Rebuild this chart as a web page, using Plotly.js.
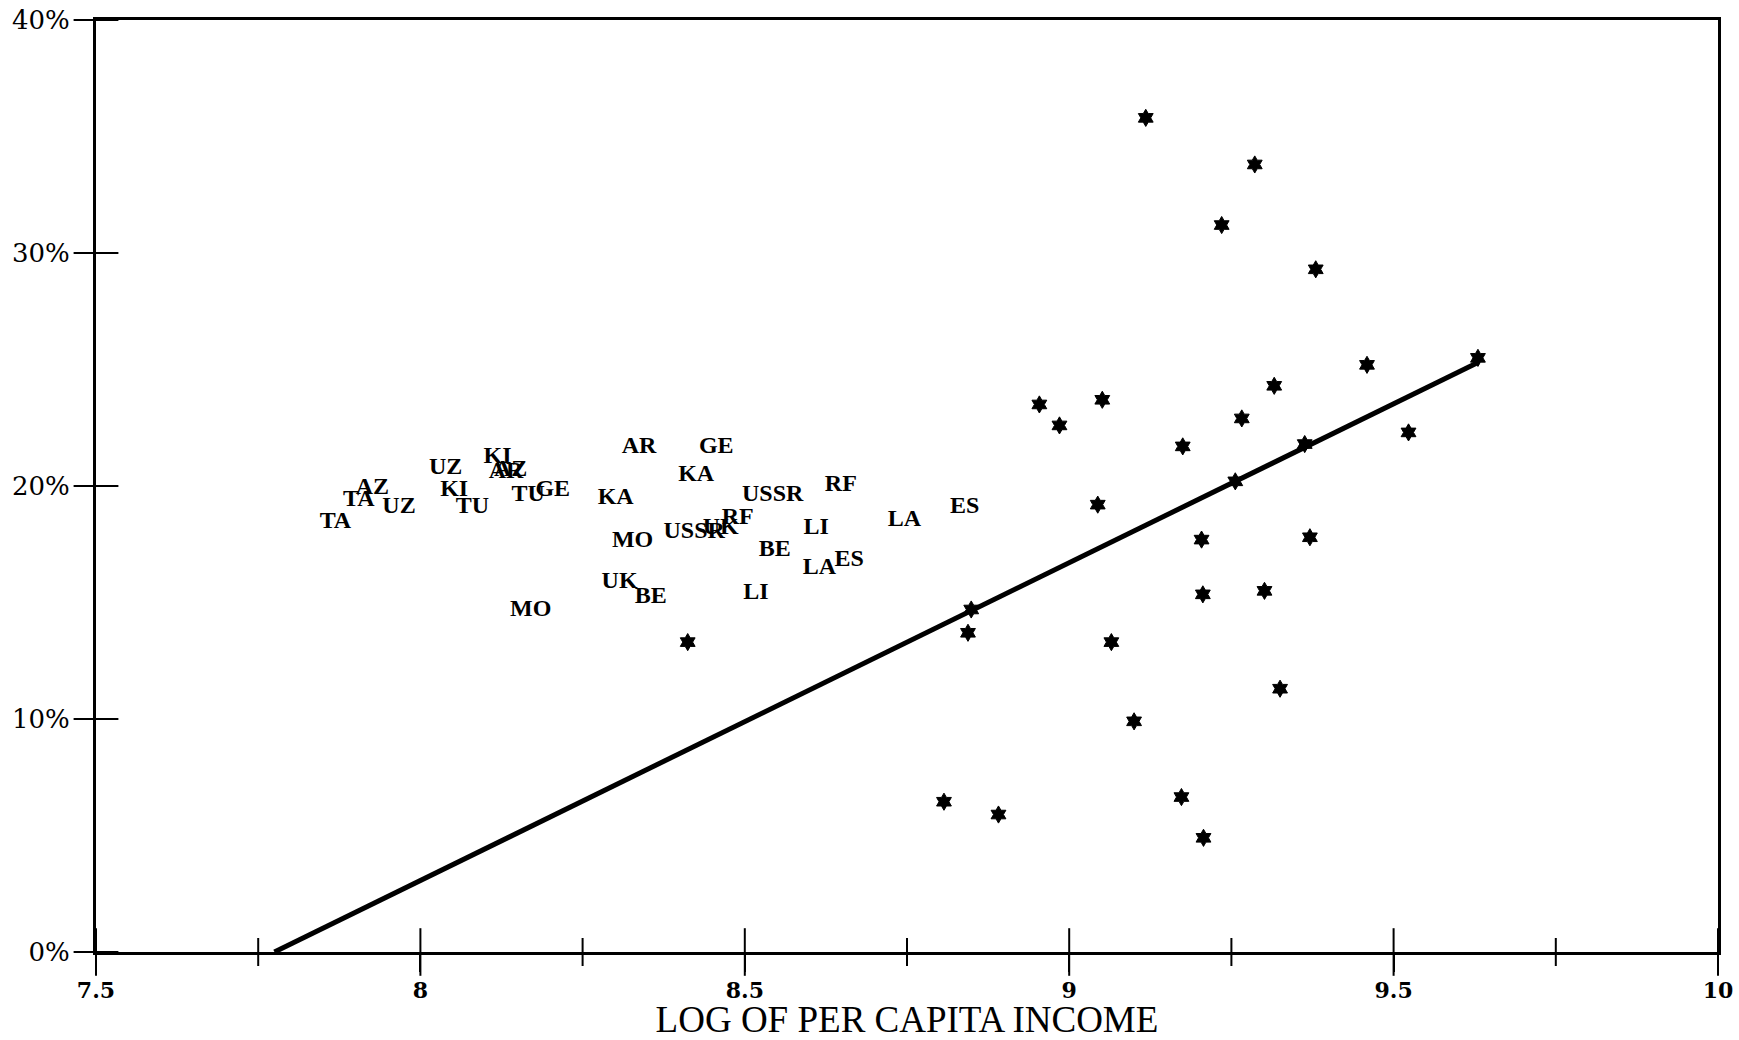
<!DOCTYPE html>
<html>
<head>
<meta charset="utf-8">
<script src="https://cdn.plot.ly/plotly-3.0.1.min.js"></script>
<style>html,body{margin:0;padding:0;background:#fff;}#chart{width:1739px;height:1040px;}</style>
</head>
<body>
<div id="chart"></div>
<script>
// Star-marked observations (log per capita income, percent)
const starX = [9.118, 9.286, 9.235, 9.380, 9.459, 9.630, 9.316, 8.954, 9.051, 8.985,
               9.266, 9.523, 9.175, 9.363, 9.256, 9.044, 9.204, 9.371, 9.206, 9.301,
               8.849, 8.844, 9.065, 8.412, 9.325, 9.100, 8.807, 8.891, 9.173, 9.207];
const starY = [35.8, 33.8, 31.2, 29.3, 25.2, 25.5, 24.3, 23.5, 23.7, 22.6,
               22.9, 22.3, 21.7, 21.8, 20.2, 19.2, 17.7, 17.8, 15.35, 15.5,
               14.7, 13.7, 13.3, 13.3, 11.3, 9.9, 6.45, 5.9, 6.65, 4.9];

// Labelled Soviet republics
const labelText = ["TA", "TA", "AZ", "UZ", "UZ", "KI", "TU", "KI", "AR", "AZ",
                   "TU", "GE", "KA", "AR", "GE", "KA", "MO", "USSR", "UK", "RF",
                   "USSR", "RF", "LI", "BE", "LA", "ES", "LA", "ES", "LI", "UK",
                   "BE", "MO"];
const labelX = [7.869, 7.905, 7.926, 7.967, 8.039, 8.052, 8.080, 8.119, 8.132, 8.139,
                8.166, 8.204, 8.301, 8.337, 8.456, 8.425, 8.327, 8.422, 8.463, 8.489,
                8.543, 8.648, 8.610, 8.546, 8.746, 8.839, 8.615, 8.661, 8.517, 8.307,
                8.355, 8.170];
const labelY = [18.47, 19.40, 19.90, 19.11, 20.76, 19.83, 19.11, 21.26, 20.62, 20.69,
                19.62, 19.83, 19.48, 21.69, 21.69, 20.48, 17.62, 18.04, 18.19, 18.61,
                19.62, 20.05, 18.19, 17.26, 18.55, 19.11, 16.47, 16.83, 15.40, 15.90,
                15.25, 14.68];

// Fitted regression line
const fitX = [7.775, 9.630];
const fitY = [0, 25.3];

// Axis ticks
const xRange = [7.5, 10];
const yRange = [0, 40];
const xTickVals = [7.5, 8, 8.5, 9, 9.5, 10];
const xTickText = ["7.5", "8", "8.5", "9", "9.5", "10"];
const xMinorVals = [7.75, 8.25, 8.75, 9.25, 9.75];
const yTickVals = [0, 10, 20, 30, 40];
const yTickText = ["0%", "10%", "20%", "30%", "40%"];
const axisTitleX = "LOG OF PER CAPITA INCOME";

const black = '#000';
const tickMarker = (sym, size) => ({symbol: sym, size: size, color: black, line: {color: black, width: 2}});

const traces = [
  {
    type: 'scatter', mode: 'lines', x: fitX, y: fitY,
    line: {color: black, width: 5}, hoverinfo: 'skip'
  },
  {
    type: 'scatter', mode: 'markers', x: starX, y: starY,
    marker: {symbol: 'hexagram', size: 13, color: black, line: {color: black, width: 1}}
  },
  {
    type: 'scatter', mode: 'text', x: labelX, y: labelY, text: labelText,
    textposition: 'middle center',
    textfont: {family: 'Liberation Serif', size: 24, color: black, weight: 'bold'}
  },
  // crossing tick marks drawn through the axes' own scales
  {
    type: 'scatter', mode: 'markers', x: xTickVals, y: xTickVals.map(() => yRange[0]),
    marker: tickMarker('line-ns', 34), cliponaxis: false, hoverinfo: 'skip'
  },
  {
    type: 'scatter', mode: 'markers', x: xMinorVals, y: xMinorVals.map(() => yRange[0]),
    marker: tickMarker('line-ns', 20), cliponaxis: false, hoverinfo: 'skip'
  },
  {
    type: 'scatter', mode: 'markers', x: yTickVals.map(() => xRange[0]), y: yTickVals,
    marker: tickMarker('line-ew', 32), cliponaxis: false, hoverinfo: 'skip'
  }
];

const layout = {
  width: 1739, height: 1040,
  margin: {l: 96, r: 21, t: 20, b: 88},
  paper_bgcolor: '#fff', plot_bgcolor: '#fff',
  showlegend: false,
  xaxis: {
    range: xRange, tickmode: 'array', tickvals: xTickVals, ticktext: xTickText,
    ticks: 'outside', ticklen: 17, tickwidth: 2, tickcolor: black,
    showline: true, linewidth: 3, linecolor: black, mirror: true,
    showgrid: false, zeroline: false, automargin: false,
    tickfont: {family: 'DejaVu Serif', size: 22, color: black, weight: 'bold'},
    ticklabelstandoff: 0,
    title: {text: axisTitleX, font: {family: 'Liberation Serif', size: 37, color: black}, standoff: 0}
  },
  yaxis: {
    range: yRange, tickmode: 'array', tickvals: yTickVals, ticktext: yTickText,
    ticks: 'outside', ticklen: 16, tickwidth: 2, tickcolor: black,
    showline: true, linewidth: 3, linecolor: black, mirror: true,
    showgrid: false, zeroline: false, automargin: false,
    tickfont: {family: 'DejaVu Serif', size: 26, color: black},
    ticklabelstandoff: 2
  }
};

Plotly.newPlot('chart', traces, layout, {displayModeBar: false, staticPlot: true});
</script>
</body>
</html>
